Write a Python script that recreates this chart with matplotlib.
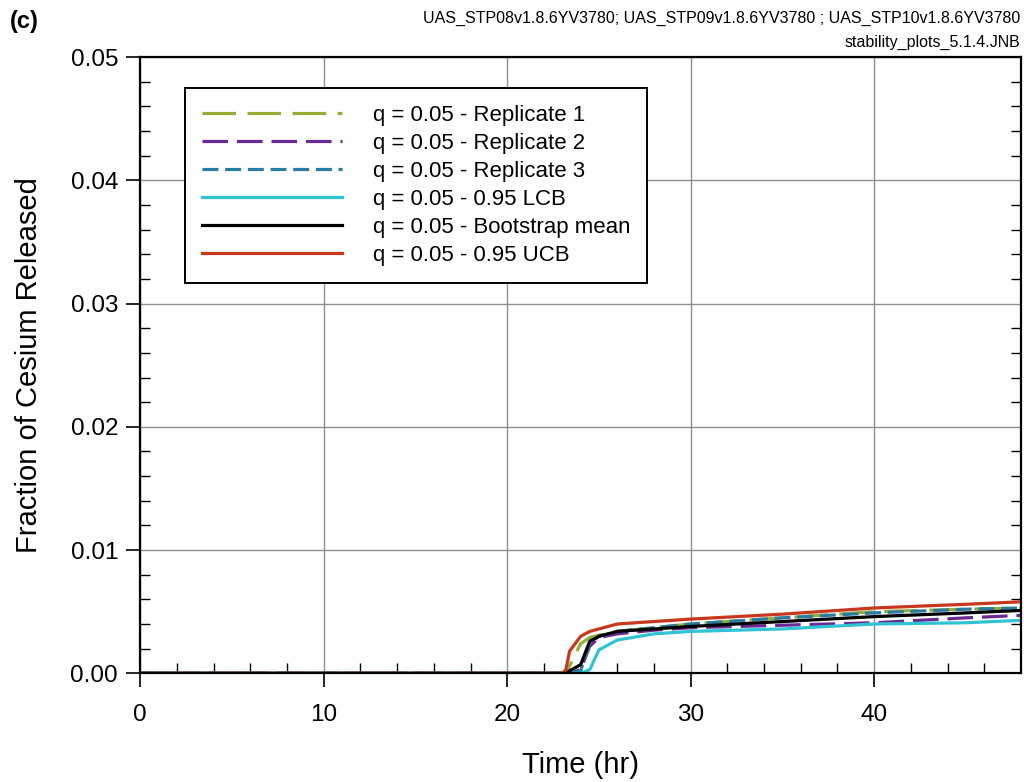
import matplotlib.pyplot as plt
import numpy as np

plt.rcParams['font.family'] = ['Liberation Sans', 'DejaVu Sans']

# time grid (hr) and fraction released per series
time_hr = [0, 23.0, 23.2, 23.4, 24.0, 24.5, 25.0, 26.0, 28.0, 30.0, 35.0, 40.0, 45.0, 48.0]
rep1 = [0, 0, 0, 0.0006, 0.0024, 0.0029, 0.0031, 0.0034, 0.0037, 0.0040, 0.0045, 0.0050, 0.0052, 0.0053]
rep2 = [0, 0, 0, 0, 0.0003, 0.0022, 0.0029, 0.0032, 0.0035, 0.0037, 0.0039, 0.0041, 0.0045, 0.0047]
rep3 = [0, 0, 0, 0, 0.0002, 0.0024, 0.0030, 0.0034, 0.0037, 0.0040, 0.0045, 0.0049, 0.0052, 0.0053]
lcb = [0, 0, 0, 0, 0, 0.0003, 0.0019, 0.0027, 0.0032, 0.0034, 0.0036, 0.0040, 0.0041, 0.0043]
mean = [0, 0, 0, 0.0002, 0.0007, 0.0026, 0.0030, 0.0034, 0.0036, 0.0038, 0.0042, 0.0046, 0.0049, 0.0051]
ucb = [0, 0, 0.0003, 0.0018, 0.0030, 0.0034, 0.0036, 0.0040, 0.0042, 0.0044, 0.0048, 0.0053, 0.0056, 0.0058]

labels = ['q = 0.05 - Replicate 1', 'q = 0.05 - Replicate 2', 'q = 0.05 - Replicate 3',
          'q = 0.05 - 0.95 LCB', 'q = 0.05 - Bootstrap mean', 'q = 0.05 - 0.95 UCB']

fig = plt.figure(figsize=(10.24, 7.82), dpi=100)
ax = fig.add_axes([0.137, 0.139, 0.860, 0.788])

lw = 2.3
ax.plot(time_hr, rep1, color='#95ad36', lw=lw, dashes=(10.5, 3.6), label=labels[0])
ax.plot(time_hr, rep2, color='#6b2a93', lw=lw, dashes=(8, 2.8), label=labels[1])
ax.plot(time_hr, rep3, color='#2a7d9e', lw=lw, dashes=(5, 2.1), label=labels[2])
ax.plot(time_hr, lcb, color='#2fc4d4', lw=lw, label=labels[3])
ax.plot(time_hr, mean, color='black', lw=lw, label=labels[4])
ax.plot(time_hr, ucb, color='#c8381e', lw=lw, label=labels[5])

ax.set_xlim(0, 48)
ax.set_ylim(0, 0.05)
ax.set_xticks([0, 10, 20, 30, 40])
ax.set_yticks(np.arange(0, 0.051, 0.01))
ax.set_yticklabels(['0.00', '0.01', '0.02', '0.03', '0.04', '0.05'])
ax.set_xticks(np.arange(0, 48, 2), minor=True)
ax.set_yticks(np.arange(0, 0.05, 0.002), minor=True)
ax.grid(True, which='major', color='#8f8f8f', lw=1.0)
ax.tick_params(which='major', direction='out', length=10, width=1.2, labelsize=17.5, pad=6)
ax.tick_params(axis='x', which='major', pad=12)
ax.tick_params(which='minor', direction='in', length=7, width=1.0, right=True)
for s in ax.spines.values():
    s.set_linewidth(1.6)

ax.set_xlabel('Time (hr)', fontsize=21, labelpad=18)
ax.set_ylabel('Fraction of Cesium Released', fontsize=21, labelpad=20)

leg = ax.legend(loc='upper left', bbox_to_anchor=(0.051, 0.950), fontsize=16,
                handlelength=6.3, handletextpad=1.4, labelspacing=0.32,
                fancybox=False, framealpha=1, edgecolor='black', borderpad=0.75,
                borderaxespad=0)
leg.get_frame().set_linewidth(1.4)

fig.text(0.010, 0.972, '(c)', fontsize=17, fontweight='bold', va='center')
fig.text(0.996, 0.977, 'UAS_STP08v1.8.6YV3780; UAS_STP09v1.8.6YV3780 ; UAS_STP10v1.8.6YV3780',
         fontsize=11.5, ha='right', va='center')
fig.text(0.996, 0.946, 'stability_plots_5.1.4.JNB', fontsize=11.5, ha='right', va='center')

fig.savefig('out.png', dpi=100)
